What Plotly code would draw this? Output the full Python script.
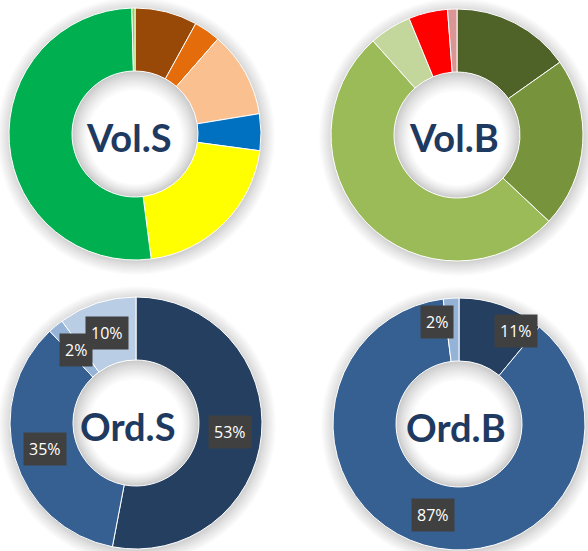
import math
import plotly.graph_objects as go

# ---------------- data ----------------
vol_s_labels = ["S1", "S2", "S3", "S4", "S5", "S6", "S7"]
vol_s_values = [8.0, 3.4, 11.0, 4.7, 20.8, 51.6, 0.4]
vol_s_colors = ["#984807", "#E46C0A", "#FAC090", "#0070C0", "#FFFF00", "#00B050", "#92D050"]

vol_b_labels = ["B1", "B2", "B3", "B4", "B5", "B6"]
vol_b_values = [15.2, 21.8, 51.4, 5.4, 5.0, 1.2]
vol_b_colors = ["#4F6228", "#77933C", "#9BBB59", "#C3D69B", "#FF0000", "#D99694"]

ord_s_labels = ["O1", "O2", "O3", "O4"]
ord_s_values = [53, 35, 2, 10]
ord_s_colors = ["#243F60", "#366092", "#95B3D7", "#B9CDE5"]

ord_b_labels = ["P1", "P2", "P3"]
ord_b_values = [11, 87, 2]
ord_b_colors = ["#243F60", "#366092", "#95B3D7"]

titles = ["Vol.S", "Vol.B", "Ord.S", "Ord.B"]

# ---------------- layout constants ----------------
W, H = 588, 551
R = 126
HOLE = 0.5
centers = [(135, 134), (457, 135), (136, 423), (459, 424)]
title_shift = [(-6, 3), (-3, 2), (-9, 3), (-3, 3)]
show_labels = [False, False, True, True]
label_nudge = {(3, 0): (25, -4), (3, 2): (-16, -8)}

charts = [
    (vol_s_labels, vol_s_values, vol_s_colors),
    (vol_b_labels, vol_b_values, vol_b_colors),
    (ord_s_labels, ord_s_values, ord_s_colors),
    (ord_b_labels, ord_b_values, ord_b_colors),
]

fig = go.Figure()
shapes = []
annotations = []


def lerp_color(c1, c2, t):
    return "rgb(%d,%d,%d)" % tuple(round(a + (b - a) * t) for a, b in zip(c1, c2))


for i, ((labels, values, colors), (cx, cy)) in enumerate(zip(charts, centers)):
    fig.add_trace(go.Pie(
        labels=labels, values=values,
        marker=dict(colors=colors, line=dict(color="white", width=1)),
        hole=HOLE, sort=False, direction="clockwise", rotation=0,
        textinfo="none", hoverinfo="label+percent", showlegend=False,
        domain=dict(x=[(cx - R) / W, (cx + R) / W],
                    y=[1 - (cy + R) / H, 1 - (cy - R) / H]),
    ))

    # outer soft shadow
    n = 14
    for k in range(n, -1, -1):
        t = k / n
        rr = R + k
        col = lerp_color((210, 210, 210), (255, 255, 255), t ** 0.9)
        shapes.append(dict(type="circle", xref="x", yref="y", layer="below",
                           x0=cx - rr + 1, x1=cx + rr + 1, y0=cy - rr + 2, y1=cy + rr + 2,
                           fillcolor=col, line=dict(width=0)))
    # inner hole shading
    rin = R * HOLE
    m = 16
    for k in range(0, m + 1):
        t = k / m
        rr = rin - k
        off = k * 0.2
        col = lerp_color((200, 200, 200), (255, 255, 255), t ** 0.8)
        shapes.append(dict(type="circle", xref="x", yref="y", layer="below",
                           x0=cx - rr, x1=cx + rr, y0=cy - rr + off, y1=cy + rr + off,
                           fillcolor=col, line=dict(width=0)))

    # title in the middle
    annotations.append(dict(x=cx, y=cy, xref="x", yref="y", text="<b>%s</b>" % titles[i],
                            showarrow=False, xshift=title_shift[i][0], yshift=-title_shift[i][1],
                            font=dict(family="Lato", size=38, color="#1F3A60")))

    if show_labels[i]:
        total = sum(values)
        cum = 0
        rm = (R + R * HOLE) / 2
        for j, v in enumerate(values):
            mid = (cum + v / 2) / total * 360
            cum += v
            lx = cx + rm * math.sin(math.radians(mid))
            ly = cy - rm * math.cos(math.radians(mid))
            nx, ny = label_nudge.get((i, j), (0, 0))
            lx += nx
            ly += ny
            txt = "%d%%" % round(v / total * 100)
            annotations.append(dict(x=lx, y=ly, xref="x", yref="y", text=txt, showarrow=False,
                                    bgcolor="#404040", borderpad=5,
                                    font=dict(family="Open Sans", size=16, color="white")))

fig.update_layout(
    width=W, height=H,
    margin=dict(l=0, r=0, t=0, b=0),
    paper_bgcolor="white", plot_bgcolor="white",
    xaxis=dict(range=[0, W], visible=False, fixedrange=True, domain=[0, 1]),
    yaxis=dict(range=[H, 0], visible=False, fixedrange=True, domain=[0, 1]),
    shapes=shapes,
    annotations=annotations,
)

fig.write_html("out.html", config={"displayModeBar": False},
               post_script="document.body.style.margin='0';")
